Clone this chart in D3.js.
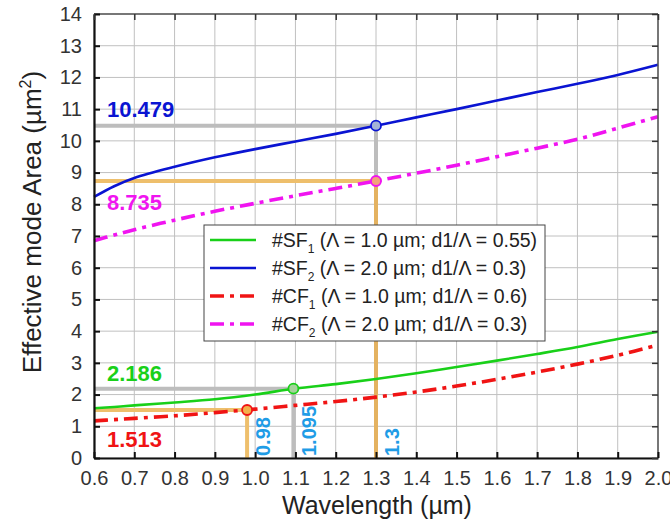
<!DOCTYPE html>
<html lang="en">
<head>
<meta charset="utf-8">
<title>Effective mode area vs wavelength</title>
<script src="https://d3js.org/d3.v7.min.js"></script>
<style>
  body { margin: 0; background: #fff; }
  svg { display: block; font-family: "Liberation Sans", Arial, sans-serif; }
</style>
</head>
<body>
<div id="chart"></div>
<script>
// values
var wavelength = [0.6, 0.65, 0.7, 0.8, 0.9, 1.0, 1.1, 1.2, 1.3, 1.4, 1.5, 1.6, 1.7, 1.8, 1.9, 2.0];
var sf1 = [1.57, 1.61, 1.66, 1.75, 1.85, 2.0, 2.19, 2.33, 2.49, 2.67, 2.87, 3.07, 3.28, 3.5, 3.75, 3.98];
var sf2 = [8.23, 8.57, 8.83, 9.18, 9.48, 9.74, 9.98, 10.22, 10.479, 10.74, 11.0, 11.27, 11.54, 11.8, 12.08, 12.4];
var cf1 = [1.17, 1.21, 1.25, 1.33, 1.43, 1.54, 1.66, 1.78, 1.92, 2.08, 2.27, 2.48, 2.71, 2.96, 3.24, 3.56];
var cf2 = [6.85, 7.03, 7.2, 7.5, 7.78, 8.03, 8.27, 8.5, 8.735, 8.98, 9.23, 9.5, 9.77, 10.05, 10.4, 10.76];

var seriesNames = ['#SF', '#SF', '#CF', '#CF'];
var seriesSubs = ['1', '2', '1', '2'];
var seriesRest = [' (\u039B = 1.0 \u00B5m; d1/\u039B = 0.55)', ' (\u039B = 2.0 \u00B5m; d1/\u039B = 0.3)',
                  ' (\u039B = 1.0 \u00B5m; d1/\u039B = 0.6)', ' (\u039B = 2.0 \u00B5m; d1/\u039B = 0.3)'];
var seriesColors = ['#19d019', '#0a14d2', '#f01414', '#f014f0'];
var seriesDashed = [false, false, true, true];

// highlighted points
var markX = [1.3, 1.3, 1.095, 0.98];
var markY = [10.479, 8.735, 2.186, 1.513];
var markLabels = ['10.479', '8.735', '2.186', '1.513'];
var markColors = ['#0a14d2', '#f014f0', '#19d019', '#f01414'];
var markFills = ['#a4b2d6', '#f2a27a', '#a6d29c', '#f2b04a'];
var guideColors = ['#bdbdbd', '#eebf6c', '#bdbdbd', '#eebf6c'];
var xLabels = ['1.3', '1.095', '0.98'];
var xLabelVals = [1.3, 1.095, 0.98];

var xTicks = d3.range(6, 21).map(function(d) { return d / 10; });
var yTicks = d3.range(0, 15);

var width = 670, height = 528;
var margin = {top: 14, right: 12, bottom: 70, left: 94};
var W = width - margin.left - margin.right;
var H = height - margin.top - margin.bottom;

var svg = d3.select('#chart').append('svg')
  .attr('width', width).attr('height', height);
var g = svg.append('g')
  .attr('transform', 'translate(' + margin.left + ',' + margin.top + ')');

var x = d3.scaleLinear().domain([0.6, 2.0]).range([0, W]);
var y = d3.scaleLinear().domain([0, 14]).range([H, 0]);

// grid
g.append('g').selectAll('line').data(xTicks).enter().append('line')
  .attr('x1', function(d) { return x(d); }).attr('x2', function(d) { return x(d); })
  .attr('y1', 0).attr('y2', H)
  .attr('stroke', '#c0c0c0').attr('stroke-width', 1);
g.append('g').selectAll('line').data(yTicks).enter().append('line')
  .attr('y1', function(d) { return y(d); }).attr('y2', function(d) { return y(d); })
  .attr('x1', 0).attr('x2', W)
  .attr('stroke', '#c0c0c0').attr('stroke-width', 1);

// guide lines (horizontal from left edge, vertical down to axis)
var guides = g.append('g').attr('stroke-width', 4).attr('fill', 'none');
markX.forEach(function(mx, i) {
  guides.append('line')
    .attr('x1', x(0.6)).attr('x2', x(mx))
    .attr('y1', y(markY[i])).attr('y2', y(markY[i]))
    .attr('stroke', guideColors[i]);
});
// 1.3: grey between the two points, orange down to zero
guides.append('line').attr('x1', x(markX[0])).attr('x2', x(markX[0]))
  .attr('y1', y(markY[0])).attr('y2', y(markY[1])).attr('stroke', guideColors[0]);
guides.append('line').attr('x1', x(markX[1])).attr('x2', x(markX[1]))
  .attr('y1', y(markY[1])).attr('y2', y(0)).attr('stroke', '#e4b260');
guides.append('line').attr('x1', x(markX[2])).attr('x2', x(markX[2]))
  .attr('y1', y(markY[2])).attr('y2', y(0)).attr('stroke', guideColors[2]);
guides.append('line').attr('x1', x(markX[3])).attr('x2', x(markX[3]))
  .attr('y1', y(markY[3])).attr('y2', y(0)).attr('stroke', guideColors[3]);

// curves
var line = d3.line()
  .x(function(d) { return x(d[0]); })
  .y(function(d) { return y(d[1]); })
  .curve(d3.curveCatmullRom.alpha(0.5));
var allSeries = [sf1, sf2, cf1, cf2];
allSeries.forEach(function(vals, i) {
  var pts = wavelength.map(function(w, j) { return [w, vals[j]]; });
  g.append('path')
    .attr('d', line(pts))
    .attr('fill', 'none')
    .attr('stroke', seriesColors[i])
    .attr('stroke-width', seriesDashed[i] ? 3.6 : 2.6)
    .attr('stroke-dasharray', seriesDashed[i] ? '14,6,4,6' : null);
});

// markers
markX.forEach(function(mx, i) {
  g.append('circle')
    .attr('cx', x(mx)).attr('cy', y(markY[i])).attr('r', 5)
    .attr('fill', markFills[i]).attr('stroke', markColors[i]).attr('stroke-width', 1.8);
});

// value labels
var labelPos = [[13, -16], [13, 21], [13, -15], [13, 29]];
markLabels.forEach(function(t, i) {
  g.append('text')
    .attr('x', x(0.6) + labelPos[i][0])
    .attr('y', y(markY[i]) + labelPos[i][1])
    .attr('dy', '0.35em')
    .attr('fill', markColors[i])
    .attr('font-size', 22).attr('font-weight', 'bold')
    .text(t);
});
xLabels.forEach(function(t, i) {
  var px = x(xLabelVals[i]) + 23, py = H - 2;
  g.append('text')
    .attr('transform', 'translate(' + px + ',' + py + ') rotate(-90)')
    .attr('fill', '#1f9ce6')
    .attr('font-size', 20).attr('font-weight', 'bold')
    .text(t);
});

// frame: top and right thin, left and bottom heavy
g.append('line').attr('x1', 0).attr('x2', W).attr('y1', 0).attr('y2', 0)
  .attr('stroke', '#555').attr('stroke-width', 1.5);
g.append('line').attr('x1', W).attr('x2', W).attr('y1', 0).attr('y2', H)
  .attr('stroke', '#555').attr('stroke-width', 1.5);

// ticks pointing inward
var tickLen = 6;
g.append('g').attr('transform', 'translate(0,' + H + ')')
  .call(d3.axisBottom(x).tickValues(xTicks).tickFormat(d3.format('.1f')).tickSizeInner(-tickLen).tickSizeOuter(0).tickPadding(13))
  .call(function(a) {
    a.select('.domain').attr('stroke', '#111').attr('stroke-width', 2.2);
    a.selectAll('.tick line').attr('stroke', '#111').attr('stroke-width', 2);
    a.selectAll('text').attr('font-size', 20).attr('fill', '#333').attr('font-family', 'Liberation Sans, Arial, sans-serif');
  });
g.append('g')
  .call(d3.axisLeft(y).tickValues(yTicks).tickSizeInner(-tickLen).tickSizeOuter(0).tickPadding(12))
  .call(function(a) {
    a.select('.domain').attr('stroke', '#111').attr('stroke-width', 2.2);
    a.selectAll('.tick line').attr('stroke', '#111').attr('stroke-width', 2);
    a.selectAll('text').attr('font-size', 20).attr('fill', '#333').attr('font-family', 'Liberation Sans, Arial, sans-serif');
  });
g.append('g')
  .call(d3.axisTop(x).tickValues(xTicks).tickFormat('').tickSizeInner(-tickLen).tickSizeOuter(0))
  .call(function(a) {
    a.select('.domain').remove();
    a.selectAll('.tick line').attr('stroke', '#333').attr('stroke-width', 1.5);
  });
g.append('g').attr('transform', 'translate(' + W + ',0)')
  .call(d3.axisRight(y).tickValues(yTicks).tickFormat('').tickSizeInner(-tickLen).tickSizeOuter(0))
  .call(function(a) {
    a.select('.domain').remove();
    a.selectAll('.tick line').attr('stroke', '#333').attr('stroke-width', 1.5);
  });

// axis titles
svg.append('text')
  .attr('x', 377).attr('y', 514)
  .attr('text-anchor', 'middle').attr('font-size', 25).attr('fill', '#222')
  .text('Wavelength (\u00B5m)');
var yl = svg.append('text')
  .attr('transform', 'translate(41,222) rotate(-90)')
  .attr('text-anchor', 'middle').attr('font-size', 26).attr('fill', '#222');
yl.append('tspan').text('Effective mode Area (\u00B5m');
yl.append('tspan').attr('font-size', 16).attr('dy', -10).text('2');
yl.append('tspan').attr('dy', 10).text(')');

// legend
var lg = svg.append('g').attr('transform', 'translate(204,225)');
lg.append('rect').attr('width', 341).attr('height', 116)
  .attr('fill', '#fff').attr('stroke', '#444').attr('stroke-width', 1);
seriesNames.forEach(function(n, i) {
  var ry = 15 + i * 28;
  lg.append('line').attr('x1', 6).attr('x2', 52).attr('y1', ry).attr('y2', ry)
    .attr('stroke', seriesColors[i])
    .attr('stroke-width', seriesDashed[i] ? 3.6 : 2.6)
    .attr('stroke-dasharray', seriesDashed[i] ? '14,6,4,6' : null);
  var t = lg.append('text').attr('x', 68).attr('y', ry).attr('dy', '0.35em')
    .attr('font-size', 19.5).attr('fill', '#222');
  t.append('tspan').text(n);
  t.append('tspan').attr('font-size', 12).attr('dy', 6).text(seriesSubs[i]);
  t.append('tspan').attr('dy', -6).text(seriesRest[i]);
});
</script>
</body>
</html>
